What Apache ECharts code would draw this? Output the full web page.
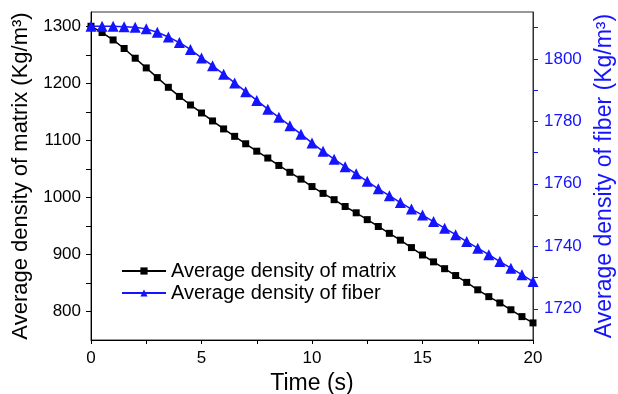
<!DOCTYPE html>
<html>
<head>
<meta charset="utf-8">
<script src="https://cdn.jsdelivr.net/npm/echarts@6/dist/echarts.min.js"></script>
<style>
  html, body { margin: 0; padding: 0; background: #fff; }
  #chart { width: 618px; height: 394px; }
</style>
</head>
<body>
<div id="chart"></div>
<script>
// time points (s)
const times = [0, 0.5, 1, 1.5, 2, 2.5, 3, 3.5, 4, 4.5, 5, 5.5, 6, 6.5, 7, 7.5, 8, 8.5, 9, 9.5,
  10, 10.5, 11, 11.5, 12, 12.5, 13, 13.5, 14, 14.5, 15, 15.5, 16, 16.5, 17, 17.5, 18, 18.5, 19, 19.5, 20]

// average density of matrix (Kg/m3), left axis
const matrixDensity = [1300, 1289, 1276, 1261, 1244, 1227, 1210, 1193, 1177, 1162, 1148, 1134, 1120, 1107, 1094, 1081, 1069, 1056, 1044, 1032,
  1019, 1007, 996, 984, 973, 961, 949, 937, 925, 912, 899, 887, 875, 863, 851, 838, 826, 815, 803, 791, 780]

// average density of fiber (Kg/m3), right axis
const fiberDensity = [1810.4, 1810.4, 1810.4, 1810.3, 1810.1, 1809.6, 1808.5, 1807.0, 1805.2, 1803.0, 1800.3, 1797.8, 1795.1, 1792.3, 1789.5, 1786.7, 1783.9, 1781.3, 1778.6, 1775.9,
  1773.1, 1770.4, 1767.9, 1765.5, 1763.2, 1760.8, 1758.4, 1756.2, 1754.0, 1751.9, 1750.0, 1747.9, 1745.8, 1743.7, 1741.5, 1739.4, 1737.3, 1735.1, 1733.0, 1730.9, 1728.7]

// tick labels
const timeLabels = [0, 5, 10, 15, 20]
const matrixLabels = [800, 900, 1000, 1100, 1200, 1300]
const matrixTicks = [800, 850, 900, 950, 1000, 1050, 1100, 1150, 1200, 1250, 1300]
const fiberLabels = [1720, 1740, 1760, 1780, 1800]
const fiberTicks = [1720, 1730, 1740, 1750, 1760, 1770, 1780, 1790, 1800, 1810]

const FONT = 'Liberation Sans, Arial, sans-serif'
const BLUE = '#1414ff'

const chart = echarts.init(document.getElementById('chart'))

const option = {
  animation: false,
  backgroundColor: '#fff',
  textStyle: { fontFamily: FONT },
  grid: {
    left: 91, right: 85, top: 12, bottom: 54,
    outerBoundsMode: 'none',
    containLabel: false,
    show: true, borderColor: '#333', borderWidth: 1
  },
  legend: {
    orient: 'vertical',
    left: 116,
    top: 256,
    itemWidth: 44,
    itemHeight: 9,
    itemGap: 2,
    textStyle: { fontFamily: FONT, fontSize: 20, color: '#000' },
    data: ['Average density of matrix', 'Average density of fiber']
  },
  xAxis: {
    type: 'value',
    min: 0, max: 20, interval: 2.5,
    name: 'Time (s)',
    nameLocation: 'middle',
    nameGap: 27,
    nameTextStyle: { fontFamily: FONT, fontSize: 23, color: '#000' },
    axisLine: { lineStyle: { color: '#000', width: 1 } },
    axisTick: { show: true, inside: false, length: 4, lineStyle: { color: '#000' } },
    axisLabel: {
      customValues: timeLabels,
      formatter: v => String(v),
      fontFamily: FONT, fontSize: 17, color: '#000', margin: 10
    },
    splitLine: { show: false }
  },
  yAxis: [
    {
      type: 'value',
      position: 'left',
      min: 750, max: 1325, interval: 50,
      name: 'Average density of matrix (Kg/m³)',
      nameLocation: 'middle',
      nameGap: 58,
      nameTextStyle: { fontFamily: FONT, fontSize: 22, color: '#000' },
      axisLine: { show: true, lineStyle: { color: '#000', width: 1 } },
      axisTick: { show: true, length: 5, customValues: matrixTicks, lineStyle: { color: '#000' } },
      axisLabel: {
        customValues: matrixLabels,
        formatter: v => String(v),
        fontFamily: FONT, fontSize: 17, color: '#000', margin: 10
      },
      splitLine: { show: false }
    },
    {
      type: 'value',
      position: 'right',
      min: 1710, max: 1815, interval: 10,
      name: 'Average density of fiber (Kg/m³)',
      nameLocation: 'middle',
      nameGap: 55,
      nameRotate: 90,
      nameTextStyle: { fontFamily: FONT, fontSize: 23, color: BLUE },
      axisLine: { show: true, lineStyle: { color: BLUE, width: 1 } },
      axisTick: { show: true, length: 5, customValues: fiberTicks, lineStyle: { color: BLUE } },
      axisLabel: {
        customValues: fiberLabels,
        formatter: v => String(v),
        fontFamily: FONT, fontSize: 17, color: BLUE, margin: 11
      },
      splitLine: { show: false }
    }
  ],
  series: [
    {
      name: 'Average density of matrix',
      type: 'line',
      yAxisIndex: 0,
      data: times.map((t, i) => [t, matrixDensity[i]]),
      symbol: 'rect',
      symbolSize: 7,
      color: '#000',
      lineStyle: { color: '#000', width: 1.5 },
      itemStyle: { color: '#000' },
      z: 3
    },
    {
      name: 'Average density of fiber',
      type: 'line',
      yAxisIndex: 1,
      data: times.map((t, i) => [t, fiberDensity[i]]),
      symbol: 'triangle',
      symbolSize: 11,
      color: BLUE,
      lineStyle: { color: BLUE, width: 1.5 },
      itemStyle: { color: BLUE },
      z: 4
    }
  ]
}

chart.setOption(option)
</script>
</body>
</html>
